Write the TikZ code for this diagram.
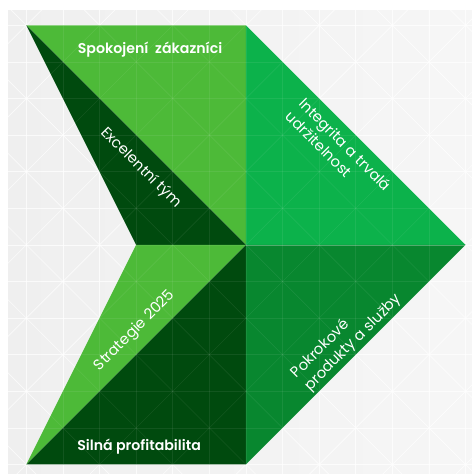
\documentclass[tikz,border=0pt]{standalone}
\usepackage{fontspec}
\setmainfont{Poppins}
\newfontfamily\semibold{Poppins SemiBold}
\definecolor{lightleaf}{HTML}{4DBA38}
\definecolor{darkleaf}{HTML}{004A0E}
\definecolor{midleaf}{HTML}{0CB24B}
\definecolor{deepleaf}{HTML}{08872F}
\definecolor{paper}{HTML}{EFEFEF}
\tikzset{
  pillar/.style={text=white, font=\fontsize{11.5}{14.5}\selectfont, align=left, inner sep=0pt},
  bold pillar/.style={pillar, font=\semibold\fontsize{11}{14}\selectfont},
  gridline/.style={white, line width=0.5pt},
}
\begin{document}
\begin{tikzpicture}
            \useasboundingbox (-6.72,-6.26) rectangle (6.17,6.69);
            \fill[white] (-6.72,-6.26) rectangle (6.17,6.69);
            \fill[left color=paper, right color=paper!55!white] (-6.5,-6.26) rectangle (6.17,6.39);

            % triangle grid
            \begin{scope}[opacity=0.75]
                \clip (-6.5,-6.26) rectangle (6.17,6.39);
                \foreach \i in {-7,...,6} {
                    \draw[gridline] (\i,-7) -- (\i,7);
                    \draw[gridline] (-7,\i) -- (7,\i);
                    \foreach \j in {-7,...,6} {
                        \pgfmathtruncatemacro\flip{mod(\i+\j+20,2)}
                        \ifnum\flip=0
                            \draw[gridline] (\i,\j) -- ++(1,1);
                        \else
                            \draw[gridline] (\i,\j+1) -- ++(1,-1);
                        \fi
                    }
                }
            \end{scope}

            \coordinate (tl) at (-6,6);
            \coordinate (tc) at (0,6);
            \coordinate (notch) at (-3,0);
            \coordinate (mid) at (0,0);
            \coordinate (bl) at (-6,-6);
            \coordinate (bc) at (0,-6);
            \coordinate (tip) at (6,0);

            \fill[lightleaf] (tl) -- (tc) -- (mid) -- cycle;
            \fill[darkleaf] (tl) -- (mid) -- (notch) -- cycle;
            \fill[lightleaf] (notch) -- (mid) -- (bl) -- cycle;
            \fill[darkleaf] (mid) -- (bc) -- (bl) -- cycle;
            \fill[midleaf] (tc) -- (tip) -- (mid) -- cycle;
            \fill[deepleaf] (mid) -- (tip) -- (bc) -- cycle;

            % faint grid over the arrow
            \begin{scope}[opacity=0.07]
                \clip (tl) -- (tc) -- (tip) -- (bc) -- (bl) -- (notch) -- cycle;
                \foreach \i in {-6,...,6} {
                    \draw[gridline] (\i,-6) -- (\i,6);
                    \draw[gridline] (-6,\i) -- (6,\i);
                    \foreach \j in {-6,...,5} {
                        \pgfmathtruncatemacro\flip{mod(\i+\j+20,2)}
                        \ifnum\flip=0
                            \draw[gridline] (\i,\j) -- ++(1,1);
                        \else
                            \draw[gridline] (\i,\j+1) -- ++(1,-1);
                        \fi
                    }
                }
            \end{scope}
            \draw[white, opacity=0.25, line width=0.5pt] (mid) -- (tip);

            \node[bold pillar] (customers) at (-2.62,5.33) {Spokojení\ \ zákazníci};
            \node[pillar, rotate=-45] (team) at (-2.87,2.10) {Excelentní tým};
            \node[pillar, rotate=45] (strategy) at (-3.03,-2.35) {Strategie 2025};
            \node[bold pillar] (profit) at (-2.92,-5.52) {Silná profitabilita};
            \node[pillar, rotate=-45] (integrity) at (2.54,2.57) {Integrita a trvalá\\udržitelnost};
            \node[pillar, rotate=45] (products) at (2.75,-2.5) {Pokrokové\\produkty a služby};
        \end{tikzpicture}
\end{document}
